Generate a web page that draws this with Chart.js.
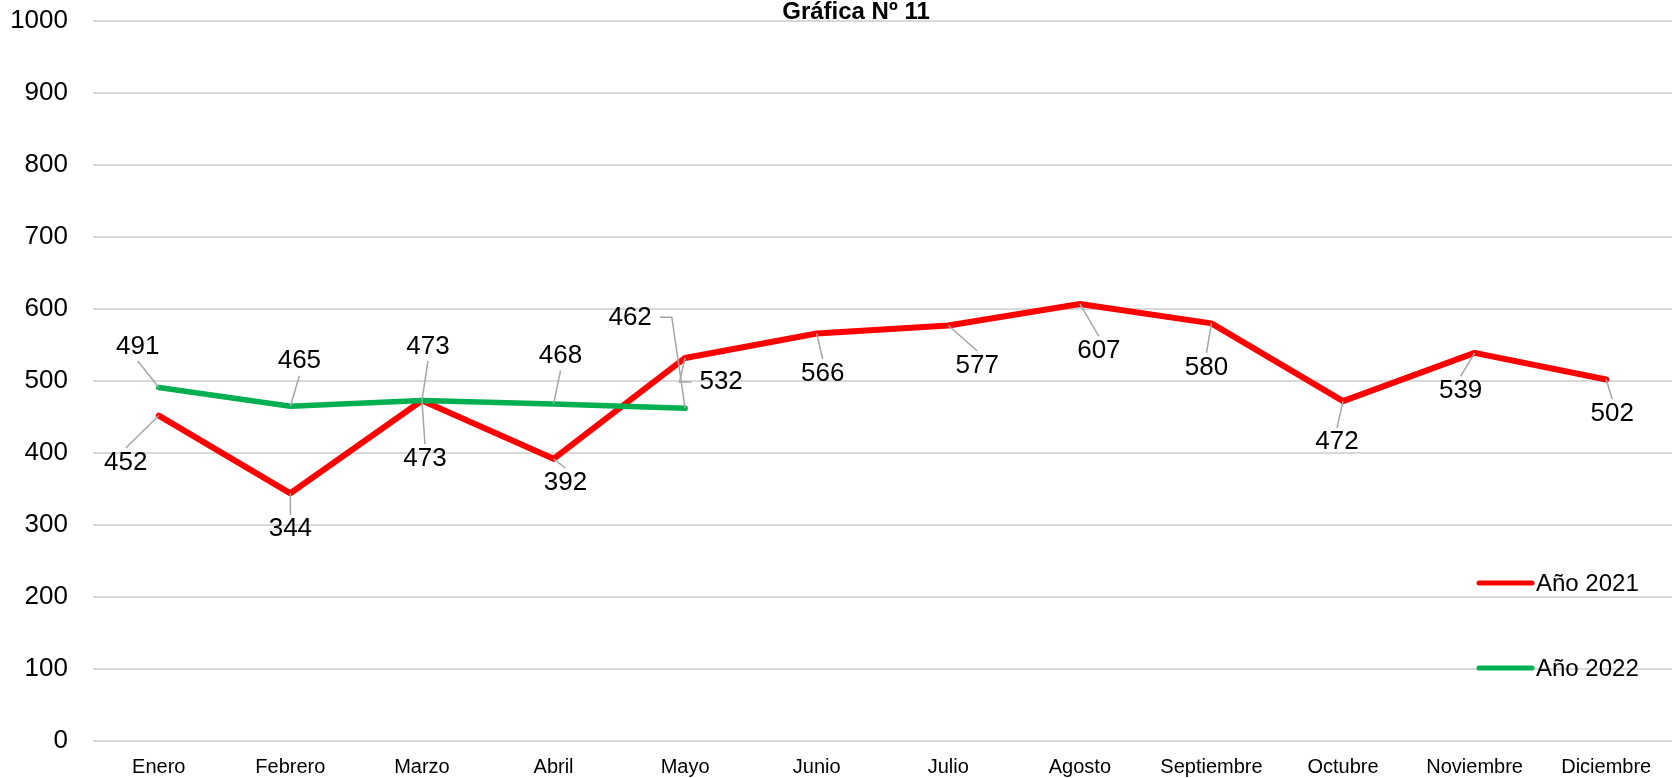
<!DOCTYPE html>
<html>
<head>
<meta charset="utf-8">
<script src="https://cdn.jsdelivr.net/npm/chart.js@4.4.1/dist/chart.umd.min.js"></script>
<style>
  html, body { margin: 0; padding: 0; background: #fff; }
  #wrap { width: 1673px; height: 778px; position: relative; }
</style>
</head>
<body>
<div id="wrap"><canvas id="grafica"></canvas></div>
<script>
// datos
const meses = ['Enero', 'Febrero', 'Marzo', 'Abril', 'Mayo', 'Junio', 'Julio',
               'Agosto', 'Septiembre', 'Octubre', 'Noviembre', 'Diciembre'];
const anio2021 = [452, 344, 473, 392, 532, 566, 577, 607, 580, 472, 539, 502];
const anio2022 = [491, 465, 473, 468, 462];
const yMin = 0, yMax = 1000, yPaso = 100;

// desplazamiento de cada etiqueta respecto a su punto (px) y tipo de guia
const offs2021 = [[-33, 47], [0, 36], [3, 58], [12, 24], [36, 24], [6, 40],
                  [29, 40], [19, 47], [-5, 44], [-6, 41], [-14, 38], [6, 34]];
const offs2022 = [[-21, -41], [9, -45], [6, -54], [7, -48], [-55, -91]];
const codo2021 = [4];
const codo2022 = [4];

const FONT = "'Liberation Sans', Arial, sans-serif";

const etiquetas = {
  id: 'etiquetas',
  afterDatasetsDraw(chart) {
    const ctx = chart.ctx;
    ctx.save();
    ctx.font = '26px ' + FONT;
    ctx.textAlign = 'center';
    ctx.textBaseline = 'middle';
    chart.data.datasets.forEach((ds, di) => {
      const meta = chart.getDatasetMeta(di);
      const offs = ds.offs, codos = ds.codos;
      meta.data.forEach((pt, i) => {
        const lx = pt.x + offs[i][0], ly = pt.y + offs[i][1];
        const txt = String(ds.data[i]);
        const w = ctx.measureText(txt).width, h = 19;
        ctx.strokeStyle = '#A6A6A6';
        ctx.lineWidth = 1.5;
        ctx.beginPath();
        if (codos.includes(i)) {
          const s = offs[i][0] < 0 ? 1 : -1;
          const x1 = lx + s * (w / 2 + 8), x2 = lx + s * (w / 2 + 20);
          ctx.moveTo(x1, ly); ctx.lineTo(x2, ly); ctx.lineTo(pt.x, pt.y);
          ctx.stroke();
        } else {
          const s = offs[i][1] > 0 ? -1 : 1;
          const ex = lx, ey = ly + s * (h / 2 + 5);
          if (Math.hypot(ex - pt.x, ey - pt.y) > 9) {
            ctx.moveTo(pt.x, pt.y); ctx.lineTo(ex, ey);
            ctx.stroke();
          }
        }
        ctx.fillStyle = '#000';
        ctx.fillText(txt, lx, ly);
      });
    });
    ctx.restore();
  }
};

const tituloYLeyenda = {
  id: 'tituloYLeyenda',
  afterDraw(chart) {
    const ctx = chart.ctx;
    ctx.save();
    ctx.fillStyle = '#000';
    ctx.font = 'bold 24px ' + FONT;
    ctx.textAlign = 'center';
    ctx.textBaseline = 'alphabetic';
    ctx.fillText('Gráfica Nº 11', 856, 19);

    const ys = [583, 668];
    ctx.font = '24px ' + FONT;
    ctx.textAlign = 'left';
    ctx.textBaseline = 'middle';
    chart.data.datasets.forEach((ds, i) => {
      ctx.strokeStyle = ds.borderColor;
      ctx.lineWidth = 5;
      ctx.lineCap = 'round';
      ctx.beginPath();
      ctx.moveTo(1479, ys[i]); ctx.lineTo(1532, ys[i]);
      ctx.stroke();
      ctx.fillStyle = '#000';
      ctx.fillText(ds.label, 1536, ys[i] + 1);
    });
    ctx.restore();
  }
};

new Chart(document.getElementById('grafica'), {
  type: 'line',
  data: {
    labels: meses,
    datasets: [
      {
        label: 'Año 2021', data: anio2021, offs: offs2021, codos: codo2021,
        borderColor: '#FF0000', backgroundColor: '#FF0000', borderWidth: 6,
        pointRadius: 0, tension: 0, borderCapStyle: 'round', borderJoinStyle: 'round',
        order: 1
      },
      {
        label: 'Año 2022', data: anio2022, offs: offs2022, codos: codo2022,
        borderColor: '#00B050', backgroundColor: '#00B050', borderWidth: 5.5,
        pointRadius: 0, tension: 0, borderCapStyle: 'round', borderJoinStyle: 'round',
        order: 0
      }
    ]
  },
  options: {
    responsive: true,
    maintainAspectRatio: false,
    animation: false,
    layout: { padding: { top: 21, right: 1, left: 0, bottom: 0 } },
    plugins: {
      legend: { display: false },
      title: { display: false },
      tooltip: { enabled: false }
    },
    scales: {
      x: {
        offset: true,
        grid: { display: false, drawTicks: false },
        border: { display: false },
        ticks: { color: '#000', font: { size: 20, family: FONT }, padding: 14, maxRotation: 0, autoSkip: false },
        afterFit(s) { s.height = 37; s.paddingLeft = 0; s.paddingRight = 0; }
      },
      y: {
        min: yMin, max: yMax,
        grid: { color: '#D9D9D9', lineWidth: 2, drawTicks: false },
        border: { display: false },
        ticks: {
          stepSize: yPaso, color: '#000', font: { size: 26, family: FONT }, padding: 25,
          callback: v => String(v)
        },
        afterFit(s) { s.width = 93; s.paddingTop = 0; s.paddingBottom = 0; }
      }
    }
  },
  plugins: [etiquetas, tituloYLeyenda]
});
</script>
</body>
</html>
